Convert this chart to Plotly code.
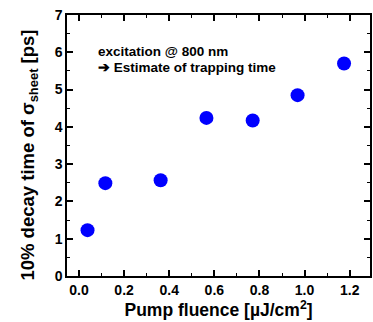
import plotly.graph_objects as go

fluence = [0.038, 0.117, 0.362, 0.565, 0.770, 0.969, 1.175]
decay_time = [1.23, 2.49, 2.57, 4.24, 4.17, 4.85, 5.70]
x_ticks = [0.0, 0.2, 0.4, 0.6, 0.8, 1.0, 1.2]
x_tick_labels = ["0.0", "0.2", "0.4", "0.6", "0.8", "1.0", "1.2"]
y_ticks = [0, 1, 2, 3, 4, 5, 6, 7]
note_lines = ["excitation @ 800 nm", "➔ Estimate of trapping time"]

FONT = "Liberation Sans, Arial, sans-serif"

fig = go.Figure()
fig.add_trace(go.Scatter(
    x=fluence, y=decay_time, mode="markers",
    marker=dict(color="#0000ff", size=14, line=dict(width=0)),
    showlegend=False,
))

axis_common = dict(
    showline=True, linecolor="black", linewidth=1.5, mirror="ticks",
    ticks="inside", tickcolor="black", ticklen=6, tickwidth=1.5,
    showgrid=False, zeroline=False,
    tickfont=dict(family=FONT, size=14, color="black", weight="bold"),
    minor=dict(ticks="inside", ticklen=3, tickwidth=1.2, tickcolor="black", showgrid=False),
)

fig.update_xaxes(
    range=[-0.053, 1.29], tickvals=x_ticks, ticktext=x_tick_labels,
    minor_dtick=0.1,
    title=dict(text="Pump fluence [µJ/cm<sup>2</sup>]", standoff=4,
               font=dict(family=FONT, size=17.5, color="black", weight="bold")),
    **axis_common,
)
fig.update_yaxes(range=[0, 7], tickvals=y_ticks, minor_dtick=0.5, **axis_common)

fig.add_annotation(
    xref="paper", yref="paper", x=-0.125, y=0.462, xanchor="center", yanchor="middle",
    text="10% decay time of σ<sub>sheet</sub> [ps]", textangle=-90, showarrow=False,
    font=dict(family=FONT, size=18.5, color="black", weight="bold"),
)

for i, line in enumerate(note_lines):
    fig.add_annotation(
        xref="paper", yref="paper", x=0.095, y=0.862 - i * 0.062,
        xanchor="left", yanchor="middle",
        text=line, showarrow=False, align="left",
        font=dict(family=FONT, size=13.5, color="black", weight="bold"),
    )

fig.update_layout(
    width=373, height=322,
    margin=dict(l=67, r=1, t=15, b=46),
    plot_bgcolor="white", paper_bgcolor="white",
)

fig.write_html("out.html")
